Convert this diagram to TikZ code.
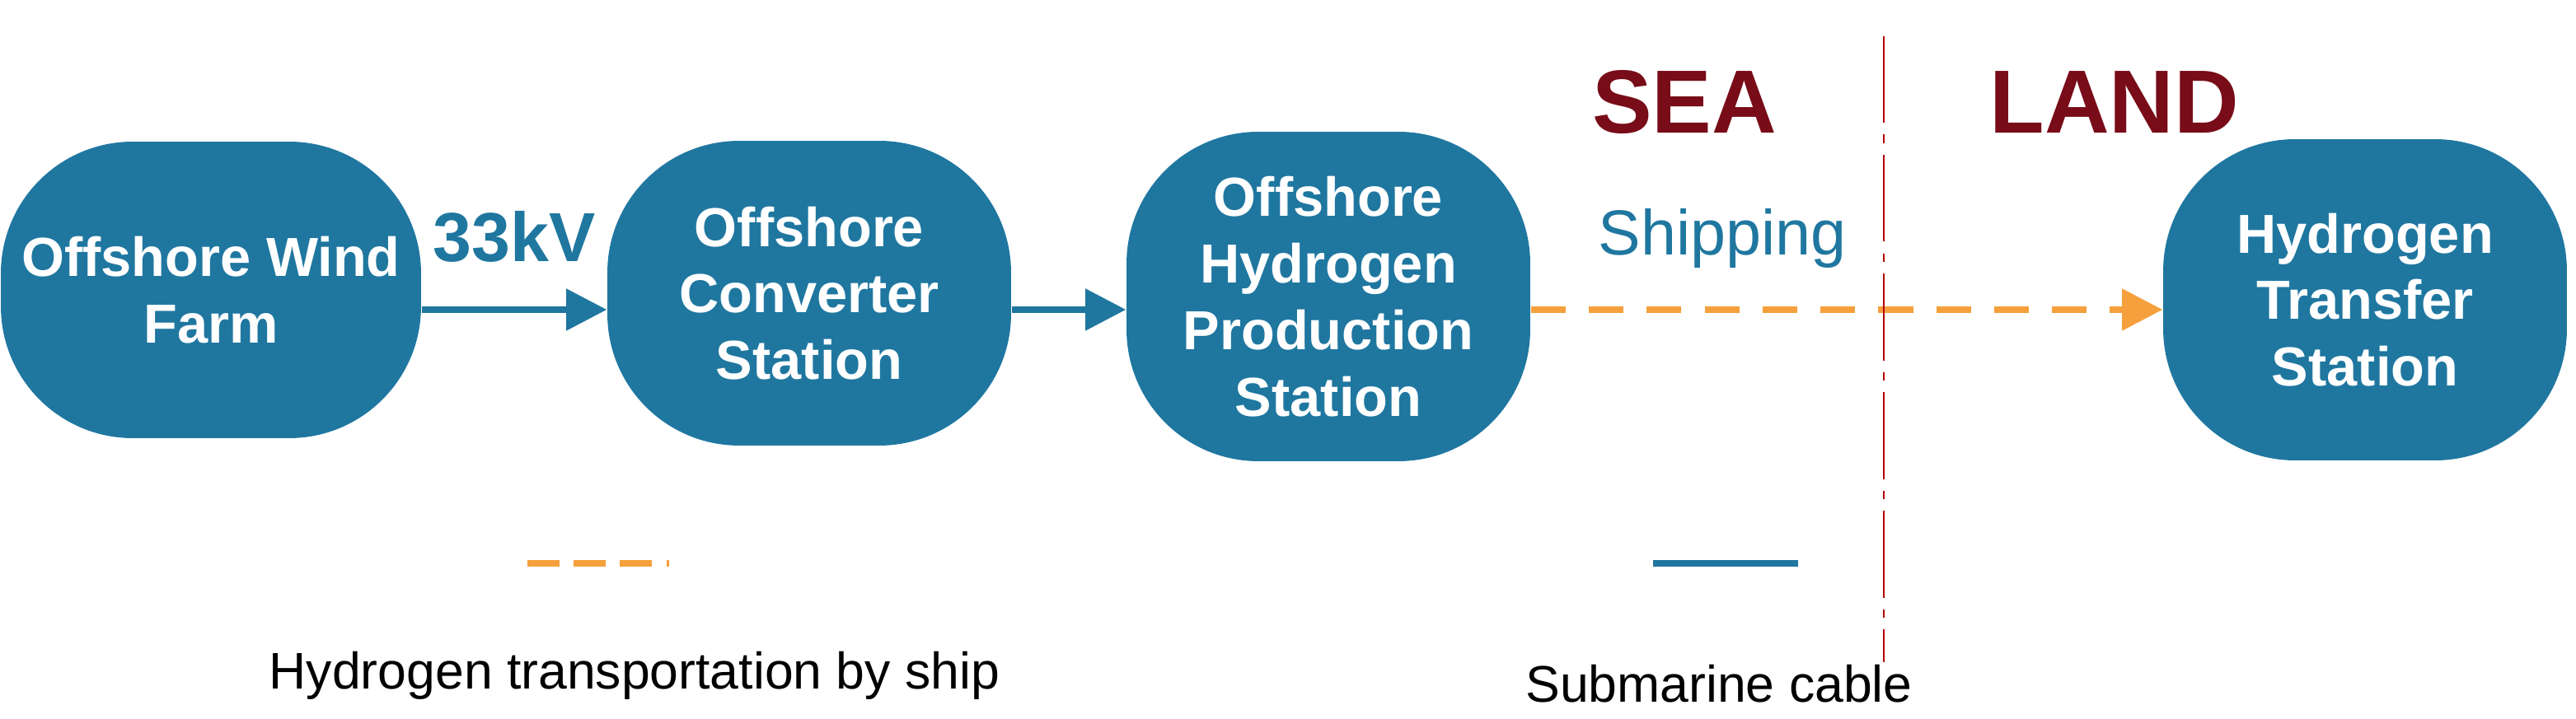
\documentclass[tikz,border=0pt]{standalone}
\usepackage{fontspec}
\setmainfont{Liberation Sans}
\usetikzlibrary{arrows.meta}
\definecolor{nb}{RGB}{31,119,160}
\definecolor{og}{RGB}{245,160,60}
\definecolor{dr}{RGB}{120,12,24}
\begin{document}
\begin{tikzpicture}[x=0.02cm,y=-0.02cm,
  st/.style={fill=nb,rounded corners=1.6cm,minimum width=4.9cm,minimum height=3.7cm,text=white,font=\fontsize{19}{23}\selectfont\bfseries,align=center,inner sep=0pt},
  bl/.style={draw=nb,line width=2.2pt,-{Triangle[length=14pt,width=14pt]}},
  ol/.style={draw=og,line width=2.2pt,dash pattern=on 12pt off 8pt,-{Triangle[length=14pt,width=14pt]}},
  lg/.style={font=\fontsize{17.8}{21}\selectfont}]
\useasboundingbox (0,0) rectangle (1563,436.5);
\node[st,minimum width=5.1cm,minimum height=3.6cm] (wf) at (128,176) {Offshore Wind\\Farm};
\node[st] (cs) at (491,178) {Offshore\\Converter\\Station};
\node[st,minimum height=4cm] (hp) at (806,180) {Offshore\\Hydrogen\\Production\\Station};
\node[st,minimum height=3.9cm] (ht) at (1435,182) {Hydrogen\\Transfer\\Station};
\draw[bl] (wf.east|-0,188) -- (cs.west|-0,188) node[midway,above=12pt,text=nb,font=\fontsize{24}{28}\selectfont\bfseries]{33kV};
\draw[bl] (cs.east|-0,188) -- (hp.west|-0,188);
\draw[ol] (hp.east|-0,188) -- (ht.west|-0,188);
\node[text=nb,font=\fontsize{22}{26}\selectfont] (sh) at (1045,145) {Shipping};
\node[text=dr,font=\fontsize{31}{36}\selectfont\bfseries] (sea) at (1022,62) {SEA};
\node[text=dr,font=\fontsize{31}{36}\selectfont\bfseries] (land) at (1283,62) {LAND};
\coordinate (r1) at (1143,22); \coordinate (r2) at (1143,402);
\draw[red!70!black,line width=0.8pt,dash pattern=on 30pt off 4pt on 3pt off 4pt] (r1) -- (r2);
\coordinate (o1) at (320,342); \coordinate (o2) at (406,342);
\draw[og,line width=2.5pt,dash pattern=on 11pt off 5pt] (o1) -- (o2);
\coordinate (b1) at (1003,342); \coordinate (b2) at (1091,342);
\draw[nb,line width=2.5pt] (b1) -- (b2);
\node[lg] (lt1) at (385,410) {Hydrogen transportation by ship};
\node[lg] (lt2) at (1043,415) {Submarine cable};
\end{tikzpicture}
\end{document}
